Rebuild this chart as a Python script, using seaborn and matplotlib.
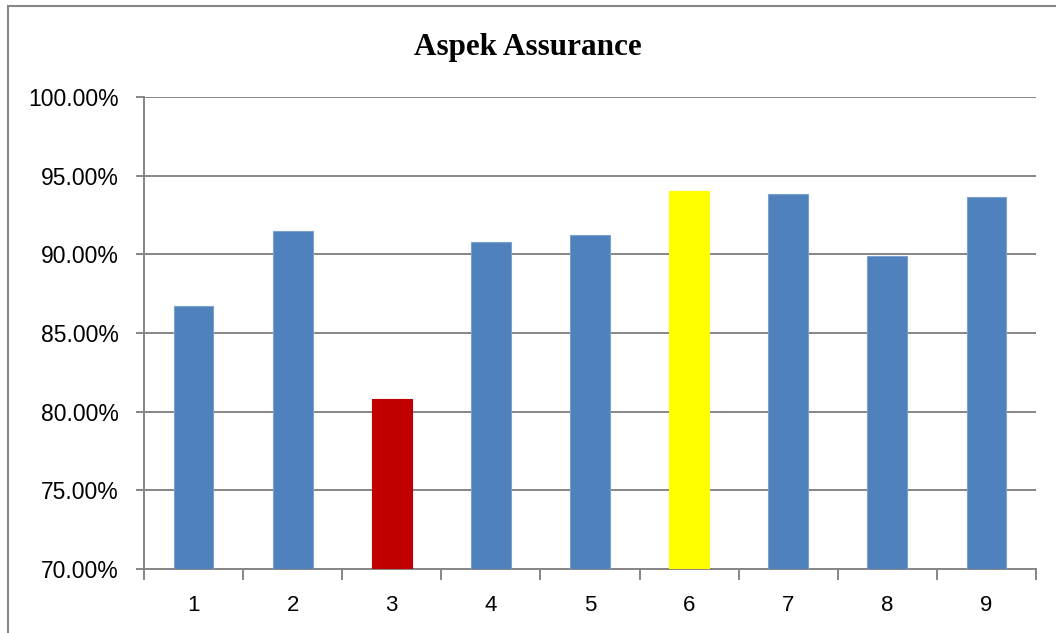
import matplotlib
matplotlib.use("Agg")
import matplotlib.pyplot as plt
from matplotlib.ticker import FuncFormatter, FixedLocator
from matplotlib.patches import Rectangle
import seaborn as sns
import pandas as pd

# Survey items and their assurance scores (fractions)
items = ["1", "2", "3", "4", "5", "6", "7", "8", "9"]
scores = [0.867, 0.915, 0.808, 0.908, 0.912, 0.9405, 0.9385, 0.899, 0.9365]
bar_colors = ["#4F81BD", "#4F81BD", "#C00000", "#4F81BD", "#4F81BD",
              "#FFFF00", "#4F81BD", "#4F81BD", "#4F81BD"]
y_ticks = [0.70, 0.75, 0.80, 0.85, 0.90, 0.95, 1.00]
title = "Aspek Assurance"

sns.set_theme(style="white")
plt.rcParams["font.family"] = ["Liberation Sans", "DejaVu Sans"]

df = pd.DataFrame({"item": items, "score": scores})

fig = plt.figure(figsize=(10.56, 6.33), dpi=100)
ax = fig.add_axes([0.1364, 0.1011, 0.981 - 0.1364, 0.8468 - 0.1011])

sns.barplot(data=df, x="item", y="score", hue="item", order=items,
            palette=dict(zip(items, bar_colors)), legend=False,
            width=0.4, saturation=1, ax=ax, zorder=3)
for patch, c in zip(ax.patches, bar_colors):
    edge = "#7BA0CD" if c == "#4F81BD" else c
    patch.set_edgecolor(edge)
    patch.set_linewidth(0.8)

ax.set_xlim(-0.5, len(items) - 0.5)
ax.set_ylim(0.70, 1.00)
ax.yaxis.set_major_locator(FixedLocator(y_ticks))
ax.yaxis.set_major_formatter(FuncFormatter(lambda v, _: f"{v * 100:.2f}%"))
ax.grid(axis="y", color="#868686", linewidth=1.4, zorder=0)
ax.set_axisbelow(True)

# category boundary tick marks on the x axis
ax.xaxis.set_minor_locator(FixedLocator([i - 0.5 for i in range(len(items) + 1)]))
ax.tick_params(axis="x", which="major", length=0, pad=19, labelsize=16, colors="black")
ax.tick_params(axis="x", which="minor", length=8, width=1.4, color="#868686", direction="out", bottom=True)
ax.tick_params(axis="y", which="major", length=6, width=1.4, color="#868686", direction="out",
               left=True, pad=12, labelsize=16.5, labelcolor="black")

for side in ["top", "right"]:
    ax.spines[side].set_visible(False)
for side in ["left", "bottom"]:
    ax.spines[side].set_color("#868686")
    ax.spines[side].set_linewidth(1.4)

ax.set_xlabel("")
ax.set_ylabel("")

fig.text(0.5, 1 - 47 / 633, title, ha="center", va="center", color="black",
         fontsize=22.4, fontweight="bold", family="Liberation Serif")

# chart area frame
fig.patches.append(Rectangle((8 / 1056, -0.05), 1.2, 1 - 6 / 633 + 0.05,
                             transform=fig.transFigure, fill=False,
                             edgecolor="#868686", linewidth=1.5))

fig.savefig("out.png", dpi=100, facecolor="white")
